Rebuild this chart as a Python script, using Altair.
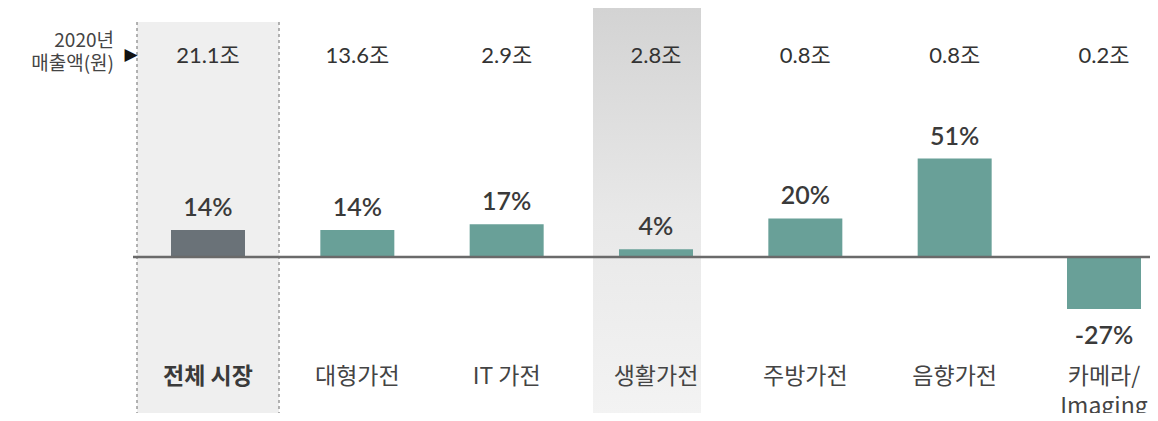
import altair as alt
import pandas as pd

categories = ["전체 시장", "대형가전", "IT 가전", "생활가전", "주방가전", "음향가전", "카메라/\nImaging"]
growth = [14, 14, 17, 4, 20, 51, -27]
sales = ["21.1조", "13.6조", "2.9조", "2.8조", "0.8조", "0.8조", "0.2조"]
is_total = [True, False, False, False, False, False, False]

df = pd.DataFrame({
    "cat": categories,
    "growth": growth,
    "sales": sales,
    "total": is_total,
    "label": [f"{g}%" for g in growth],
})

W, H = 1142, 405
xs = alt.Scale(type="point", domain=categories, range=[200, 1096], padding=0)
ys = alt.Scale(domain=[-100, 100], range=[442, 56])
X = alt.X("cat:N", scale=xs, axis=None, sort=categories)
NUMF = "Lato, 'Noto Sans CJK KR', sans-serif"
KRF = "'Noto Sans CJK KR', sans-serif"

base = alt.Chart(df)

# shaded band behind the total market
band = base.transform_filter("datum.total").mark_bar(size=142, color="#efefef").encode(
    x=X, y=alt.value(14), y2=alt.value(H + 20)
)
# light grey column behind 생활가전 (background of the slide)
col = base.transform_filter("datum.cat == '생활가전'").mark_bar(
    size=108, xOffset=-9,
    color=alt.Gradient(gradient="linear", x1=0, x2=0, y1=0, y2=1,
                       stops=[alt.GradientStop(color="#d2d2d2", offset=0),
                              alt.GradientStop(color="#e8e8e8", offset=0.5),
                              alt.GradientStop(color="#f4f4f4", offset=1)])
).encode(x=X, y=alt.value(-10), y2=alt.value(H + 20))

dash_l = base.transform_filter("datum.total").mark_rule(
    color="#9a9a9a", strokeDash=[3, 3], strokeWidth=1.5, xOffset=-71
).encode(x=X, y=alt.value(14), y2=alt.value(H + 20))
dash_r = base.transform_filter("datum.total").mark_rule(
    color="#9a9a9a", strokeDash=[3, 3], strokeWidth=1.5, xOffset=71
).encode(x=X, y=alt.value(14), y2=alt.value(H + 20))

bars = base.mark_bar(size=74).encode(
    x=X,
    y=alt.Y("growth:Q", scale=ys, axis=None),
    y2=alt.datum(0),
    color=alt.condition("datum.total", alt.value("#6a7278"), alt.value("#69a098")),
)

zero = alt.Chart(pd.DataFrame({"z": [0]})).mark_rule(color="#6a6a6a", strokeWidth=2.5).encode(
    y=alt.Y("z:Q", scale=ys, axis=None), x=alt.value(125), x2=alt.value(W)
)

pos_lbl = base.transform_filter("datum.growth >= 0").mark_text(
    font=NUMF, fontSize=25, fontWeight=600, color="#3a3a3a", baseline="alphabetic", dy=-14
).encode(x=X, y=alt.Y("growth:Q", scale=ys), text="label:N")
neg_lbl = base.transform_filter("datum.growth < 0").mark_text(
    font=NUMF, fontSize=25, fontWeight=600, color="#3a3a3a", baseline="alphabetic", dy=35
).encode(x=X, y=alt.Y("growth:Q", scale=ys), text="label:N")

sales_lbl = base.mark_text(font=NUMF, fontSize=22, color="#333333", baseline="middle").encode(
    x=X, y=alt.value(48), text="sales:N"
)

cat_total = base.transform_filter("datum.total").mark_text(
    font=KRF, fontSize=23, fontWeight="bold", color="#3a3a3a", baseline="top"
).encode(x=X, y=alt.value(358), text="cat:N")
cat_lbl = base.transform_filter("!datum.total").mark_text(
    font=KRF, fontSize=23, color="#444444", baseline="top", lineBreak="\n", lineHeight=30
).encode(x=X, y=alt.value(358), text="cat:N")

side1 = alt.Chart(pd.DataFrame({"t": ["2020년"]})).mark_text(
    font=KRF, fontSize=19, color="#444444", align="right", baseline="middle"
).encode(x=alt.value(106), y=alt.value(33), text="t:N")
side2 = alt.Chart(pd.DataFrame({"t": ["매출액(원)"]})).mark_text(
    font=KRF, fontSize=19, color="#444444", align="right", baseline="middle"
).encode(x=alt.value(106), y=alt.value(56), text="t:N")
tri = alt.Chart(pd.DataFrame({"t": ["▶"]})).mark_text(
    font="DejaVu Sans", fontSize=17, color="#111111", baseline="middle"
).encode(x=alt.value(123), y=alt.value(47), text="t:N")

chart = alt.layer(
    col, band, dash_l, dash_r, bars, zero, pos_lbl, neg_lbl, sales_lbl, cat_total, cat_lbl,
    side1, side2, tri
).properties(
    width=W, height=H, autosize=alt.AutoSizeParams(type="none"), padding=0
).configure(background="white").configure_view(stroke=None)

chart.save("out.html", embed_options={"renderer": "svg", "actions": False})
